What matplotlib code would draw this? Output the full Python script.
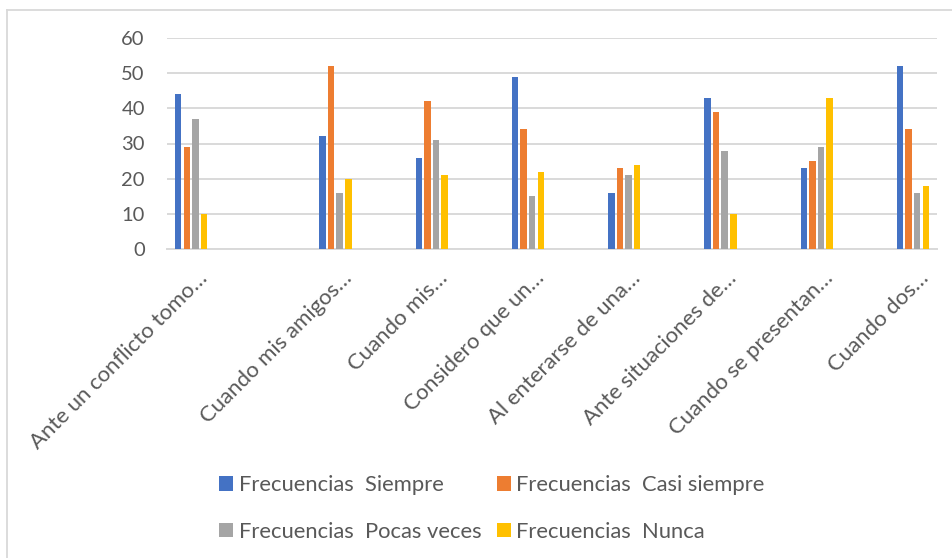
import matplotlib
matplotlib.use("Agg")
import matplotlib.pyplot as plt
import matplotlib.transforms as mtransforms
from matplotlib.lines import Line2D
import numpy as np

categories = [
    "Ante un conflicto tomo…",
    "Cuando mis amigos…",
    "Cuando mis…",
    "Considero que un…",
    "Al enterarse de una…",
    "Ante situaciones de…",
    "Cuando se presentan…",
    "Cuando dos…",
]
series_names = [
    "Frecuencias  Siempre",
    "Frecuencias  Casi siempre",
    "Frecuencias  Pocas veces",
    "Frecuencias  Nunca",
]
siempre = [44, 32, 26, 49, 16, 43, 23, 52]
casi_siempre = [29, 52, 42, 34, 23, 39, 25, 34]
pocas_veces = [37, 16, 31, 15, 21, 28, 29, 16]
nunca = [10, 20, 21, 22, 24, 10, 43, 18]
yticks = [0, 10, 20, 30, 40, 50, 60]

colors = ["#4472C4", "#ED7D31", "#A5A5A5", "#FFC000"]
text_color = "#595959"
font = ["Lato", "DejaVu Sans"]
plt.rcParams["font.family"] = font

W, H = 953, 558
fig = plt.figure(figsize=(W / 100, H / 100), dpi=100)
ax = fig.add_axes([167 / W, 1 - 248.7 / H, (937 - 167) / W, (248.7 - 38.3) / H])

# category positions (first group separated by a wider gap, as in the reference)
pos = np.array([0.0] + [1.5 + i for i in range(len(categories) - 1)])
pitch = 0.089
width = 0.068
data = [siempre, casi_siempre, pocas_veces, nunca]
handles = []
for k, (vals, c) in enumerate(zip(data, colors)):
    b = ax.bar(pos + (k - 1.5) * pitch, vals, width=width, color=c, label=series_names[k],
               zorder=3, linewidth=0)
    handles.append(b)

ax.set_xlim(-0.25, 7.75)
ax.set_ylim(0, 60)
ax.set_yticks(yticks)
ax.set_yticklabels([str(v) for v in yticks])
ax.yaxis.grid(True, color="#D9D9D9", linewidth=1.4, zorder=0)
ax.set_axisbelow(True)
for s in ["top", "right", "left"]:
    ax.spines[s].set_visible(False)
ax.spines["bottom"].set_color("#D9D9D9")
ax.spines["bottom"].set_linewidth(1.4)
ax.tick_params(axis="y", length=0, pad=16, labelsize=14.5, labelcolor=text_color)
ax.tick_params(axis="x", length=0)
ax.set_xticks(pos)
ax.set_xticklabels([])

offset = mtransforms.ScaledTranslation(6 / 100, -19 / 100, fig.dpi_scale_trans)
for p, lab in zip(pos, categories):
    ax.text(p, 0, lab, transform=ax.get_xaxis_transform() + offset, rotation=45,
            rotation_mode="anchor", ha="right", va="top", fontsize=15.9, color=text_color)

order = [0, 2, 1, 3]
leg = fig.legend(
    [handles[i] for i in order], [series_names[i] for i in order],
    loc="upper left", bbox_to_anchor=(219 / W, 1 - 475 / H), ncol=2, frameon=False,
    fontsize=15.8, labelcolor=text_color, handlelength=0.64, handleheight=0.64,
    handletextpad=0.27, columnspacing=0.68, labelspacing=1.22, borderpad=0, borderaxespad=0,
)

# chart-area border (top and left visible in the reference)
fig.add_artist(Line2D([7.5 / W, 1], [1 - 10 / H, 1 - 10 / H], color="#D9D9D9", linewidth=1.3,
                      transform=fig.transFigure))
fig.add_artist(Line2D([7.5 / W, 7.5 / W], [0, 1 - 10 / H], color="#D9D9D9", linewidth=1.3,
                      transform=fig.transFigure))

fig.savefig("out.png", dpi=100, facecolor="white")
